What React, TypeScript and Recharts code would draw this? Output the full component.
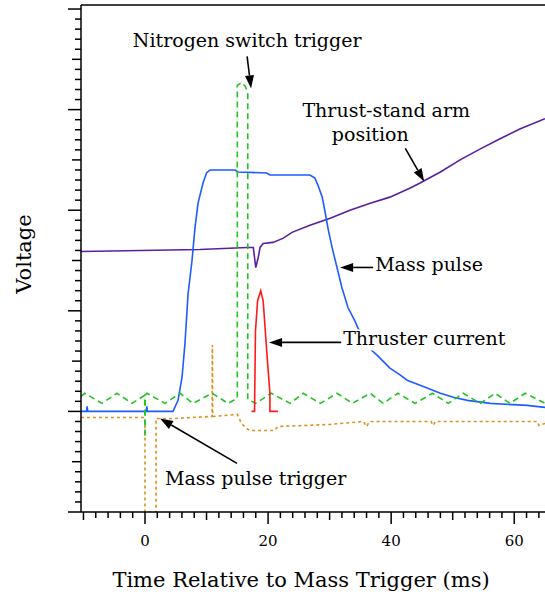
import { LineChart, Line, XAxis, YAxis, ReferenceLine, ReferenceDot } from 'recharts'

const FONT = '"DejaVu Serif", "Liberation Serif", serif'

// x in ms, v in volts (arbitrary units, 1 per major tick)
const massPulse = [
  { x: -10.4, v: 0 }, { x: -9.5, v: 0 }, { x: -9.4, v: 0.05 }, { x: -9.3, v: 0 },
  { x: 0.2, v: 0 }, { x: 0.3, v: 0.05 }, { x: 0.4, v: 0 }, { x: 4.55, v: 0 },
  { x: 5.37, v: 0.11 }, { x: 6.02, v: 0.34 }, { x: 6.5, v: 0.68 }, { x: 7.0, v: 1.17 },
  { x: 7.64, v: 1.5 }, { x: 8.13, v: 1.83 }, { x: 8.62, v: 2.07 }, { x: 9.43, v: 2.27 },
  { x: 10.0, v: 2.37 }, { x: 10.57, v: 2.4 }, { x: 14.63, v: 2.4 }, { x: 15.1, v: 2.38 },
  { x: 19.8, v: 2.37 }, { x: 20.3, v: 2.35 }, { x: 26.8, v: 2.35 }, { x: 27.6, v: 2.32 },
  { x: 28.1, v: 2.25 }, { x: 28.8, v: 2.13 }, { x: 29.3, v: 1.97 }, { x: 29.8, v: 1.8 },
  { x: 30.4, v: 1.63 }, { x: 31.2, v: 1.43 }, { x: 32.0, v: 1.23 }, { x: 33.0, v: 1.03 },
  { x: 34.1, v: 0.9 }, { x: 34.6, v: 0.83 }, { x: 35.5, v: 0.72 }, { x: 36.6, v: 0.62 },
  { x: 37.7, v: 0.56 }, { x: 39.8, v: 0.43 }, { x: 41.5, v: 0.36 }, { x: 42.6, v: 0.31 },
  { x: 44.7, v: 0.26 }, { x: 48.0, v: 0.18 }, { x: 50.1, v: 0.14 }, { x: 52.4, v: 0.11 },
  { x: 56.1, v: 0.08 }, { x: 62.1, v: 0.06 }, { x: 65, v: 0.04 },
]

const armPosition = [
  { x: -10.4, v: 1.59 }, { x: 8.9, v: 1.61 }, { x: 16.6, v: 1.63 }, { x: 17.6, v: 1.63 },
  { x: 18.0, v: 1.43 }, { x: 18.4, v: 1.53 }, { x: 18.7, v: 1.63 }, { x: 19.2, v: 1.67 },
  { x: 20.8, v: 1.68 }, { x: 22.4, v: 1.72 }, { x: 23.9, v: 1.78 }, { x: 26.8, v: 1.85 },
  { x: 30.1, v: 1.92 }, { x: 33.3, v: 2.0 }, { x: 36.6, v: 2.07 }, { x: 39.8, v: 2.13 },
  { x: 43.1, v: 2.22 }, { x: 44.7, v: 2.27 }, { x: 48.0, v: 2.38 }, { x: 51.2, v: 2.5 },
  { x: 54.5, v: 2.61 }, { x: 57.7, v: 2.71 }, { x: 61.0, v: 2.81 }, { x: 65, v: 2.91 },
]

const nitrogenTrigger = [
  { x: -10.4, v: 0.15 }, { x: -9.76, v: 0.18 }, { x: -7.0, v: 0.08 }, { x: -4.55, v: 0.18 },
  { x: -2.1, v: 0.08 }, { x: -0.05, v: 0.16 }, { x: 0, v: -0.26 }, { x: 0.05, v: 0.16 },
  { x: 0.33, v: 0.18 }, { x: 3.25, v: 0.08 }, { x: 5.69, v: 0.18 }, { x: 7.8, v: 0.08 },
  { x: 10.9, v: 0.18 }, { x: 13.5, v: 0.08 }, { x: 15.0, v: 0.13 }, { x: 15.0, v: 3.24 },
  { x: 15.7, v: 3.27 }, { x: 16.3, v: 3.23 }, { x: 16.7, v: 3.17 }, { x: 16.7, v: 0.12 },
  { x: 18.0, v: 0.08 }, { x: 20.5, v: 0.18 }, { x: 23.6, v: 0.08 }, { x: 25.7, v: 0.18 },
  { x: 28.5, v: 0.08 }, { x: 31.2, v: 0.18 }, { x: 33.7, v: 0.08 }, { x: 36.6, v: 0.18 },
  { x: 38.7, v: 0.08 }, { x: 41.1, v: 0.18 }, { x: 43.9, v: 0.08 }, { x: 46.7, v: 0.18 },
  { x: 49.3, v: 0.08 }, { x: 51.7, v: 0.18 }, { x: 54.5, v: 0.08 }, { x: 56.9, v: 0.18 },
  { x: 59.3, v: 0.08 }, { x: 61.8, v: 0.18 }, { x: 65, v: 0.08 },
]

const massTrigger = [
  { x: -10.4, v: -0.06 }, { x: 0, v: -0.06 }, { x: 0, v: -1.0 }, { x: 1.8, v: -1.0 },
  { x: 1.8, v: -0.07 }, { x: 4.9, v: -0.07 }, { x: 10.9, v: -0.05 }, { x: 10.95, v: 0.66 },
  { x: 11.0, v: -0.05 }, { x: 15.0, v: -0.03 }, { x: 15.6, v: -0.11 }, { x: 16.3, v: -0.16 },
  { x: 17.0, v: -0.19 }, { x: 21.0, v: -0.19 }, { x: 21.6, v: -0.15 }, { x: 30, v: -0.13 },
  { x: 35.5, v: -0.1 }, { x: 36.0, v: -0.15 }, { x: 36.5, v: -0.1 }, { x: 46.5, v: -0.1 },
  { x: 46.8, v: -0.14 }, { x: 47.2, v: -0.1 }, { x: 63.8, v: -0.1 }, { x: 64.0, v: -0.14 },
  { x: 65, v: -0.12 },
]

const thrusterCurrent = [
  { x: 17.3, v: 0 }, { x: 17.8, v: 0 }, { x: 17.95, v: 0.8 }, { x: 18.3, v: 1.1 },
  { x: 18.8, v: 1.2 }, { x: 19.2, v: 1.1 }, { x: 19.9, v: 0.5 }, { x: 20.3, v: 0.18 },
  { x: 20.3, v: 0 }, { x: 21.6, v: 0 },
]

const xTicks = [-10, -8, -6, -4, -2, 0, 2, 4, 6, 8, 10, 12, 14, 16, 18, 20, 22, 24, 26, 28, 30,
  32, 34, 36, 38, 40, 42, 44, 46, 48, 50, 52, 54, 56, 58, 60, 62, 64]
const yTicks = Array.from({ length: 51 }, (_, i) => (i - 10) / 10)

const notes = [
  { x: 16.6, v: 3.62, text: 'Nitrogen switch trigger', anchor: 'middle' },
  { x: 39.2, v: 2.922, text: 'Thrust-stand arm', anchor: 'middle' },
  { x: 36.6, v: 2.684, text: 'position', anchor: 'middle' },
  { x: 37.4, v: 1.392, text: 'Mass pulse', anchor: 'start' },
  { x: 32.2, v: 0.656, text: 'Thruster current', anchor: 'start', bg: true },
  { x: 3.25, v: -0.736, text: 'Mass pulse trigger', anchor: 'start' },
]

const arrows = [
  { x1: 16.59, v1: 3.529, x2: 17.24, v2: 3.211 },
  { x1: 42.3, v1: 2.614, x2: 45.37, v2: 2.286 },
  { x1: 37.07, v1: 1.431, x2: 31.71, v2: 1.431 },
  { x1: 32.2, v1: 0.686, x2: 20.16, v2: 0.686 },
  { x1: 14.96, v1: -0.517, x2: 2.44, v2: -0.07 },
]

function XTick({ x, y, payload }: any) {
  const v = payload.value
  const len = v % 20 === 0 ? 12 : v % 10 === 0 ? 8 : 6
  return (
    <g>
      <line x1={x} x2={x} y1={y} y2={y + len} stroke="#000" strokeWidth={1.5} />
      {v % 20 === 0 && (
        <text x={x} y={y + 34} textAnchor="middle" fontSize={15} fontFamily={FONT} fill="#000">{v}</text>
      )}
    </g>
  )
}

function YTick({ x, y, payload }: any) {
  const r = Math.round(payload.value * 10)
  const len = r % 10 === 0 ? 13 : r % 5 === 0 ? 9 : 6
  return <line x1={x - len} x2={x} y1={y} y2={y} stroke="#000" strokeWidth={1.5} />
}

function Arrow({ x1, y1, x2, y2 }: any) {
  const a = Math.atan2(y2 - y1, x2 - x1)
  const L = 13, W = 4.5
  const bx = x2 - L * Math.cos(a), by = y2 - L * Math.sin(a)
  const px = -Math.sin(a) * W, py = Math.cos(a) * W
  return (
    <g>
      <line x1={x1} y1={y1} x2={bx} y2={by} stroke="#000" strokeWidth={1.6} />
      <polygon points={`${x2},${y2} ${bx + px},${by + py} ${bx - px},${by - py}`} fill="#000" />
    </g>
  )
}

export default function App() {
  return (
    <div style={{ position: 'absolute', left: 0, top: 0, background: '#fff' }}>
      <LineChart width={545} height={597} margin={{ top: 5, right: 0, bottom: 0, left: 0 }}>
        <XAxis
          dataKey="x"
          type="number"
          height={85}
          domain={[-10.4, 65]}
          ticks={xTicks}
          interval={0}
          tickSize={0}
          tickMargin={0}
          tick={<XTick />}
          axisLine={{ stroke: '#000', strokeWidth: 1.5 }}
          allowDataOverflow
          label={{
            content: ({ viewBox }: any) => (
              <text x={viewBox.x + viewBox.width / 2 - 12} y={viewBox.y + 75} textAnchor="middle"
                fontSize={21} fontFamily={FONT} fill="#000">Time Relative to Mass Trigger (ms)</text>
            ),
          }}
        />
        <YAxis
          type="number"
          width={81}
          domain={[-1, 4.04]}
          ticks={yTicks}
          interval={0}
          tickSize={0}
          tickMargin={0}
          tick={<YTick />}
          axisLine={{ stroke: '#000', strokeWidth: 1.5 }}
          allowDataOverflow
          label={{
            content: ({ viewBox }: any) => {
              const cx = viewBox.x + 31, cy = viewBox.y + 249
              return (
                <text x={cx} y={cy} transform={`rotate(-90 ${cx} ${cy})`} textAnchor="middle"
                  fontSize={21} fontFamily={FONT} fill="#000">Voltage</text>
              )
            },
          }}
        />
        <ReferenceLine y={4.04} stroke="#000" strokeWidth={1.5} />
        <Line data={armPosition} dataKey="v" type="linear" stroke="#5b1e9e" strokeWidth={1.6} dot={false} isAnimationActive={false} />
        <Line data={massTrigger} dataKey="v" type="linear" stroke="#d8921c" strokeWidth={1.6} strokeDasharray="3 3" dot={false} isAnimationActive={false} />
        <Line data={massPulse} dataKey="v" type="linear" stroke="#1f5cff" strokeWidth={1.6} dot={false} isAnimationActive={false} />
        <Line data={nitrogenTrigger} dataKey="v" type="linear" stroke="#22c422" strokeWidth={1.6} strokeDasharray="6 4" dot={false} isAnimationActive={false} />
        <Line data={thrusterCurrent} dataKey="v" type="linear" stroke="#ff1a1a" strokeWidth={1.6} dot={false} isAnimationActive={false} />
        {arrows.map((a, i) => (
          <ReferenceLine key={`a${i}`} segment={[{ x: a.x1, y: a.v1 }, { x: a.x2, y: a.v2 }]} shape={(p: any) => <Arrow {...p} />} />
        ))}
        {notes.map((n, i) => (
          <ReferenceDot
            key={`n${i}`}
            x={n.x}
            y={n.v}
            r={0}
            shape={(p: any) => (
              <g>
                {n.bg && <rect x={p.cx - 2} y={p.cy - 16} width={165} height={21} fill="#fff" />}
                <text x={p.cx} y={p.cy} textAnchor={n.anchor} fontSize={19} fontFamily={FONT} fill="#000">{n.text}</text>
              </g>
            )}
          />
        ))}
      </LineChart>
    </div>
  )
}
